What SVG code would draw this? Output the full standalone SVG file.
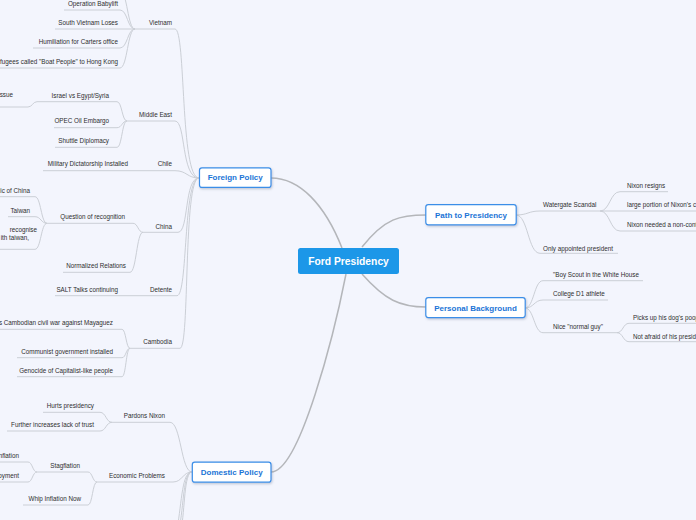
<svg xmlns="http://www.w3.org/2000/svg" width="696" height="520" viewBox="0 0 696 520">
<defs>
<filter id="sh" x="-20%" y="-30%" width="140%" height="170%">
<feDropShadow dx="0.8" dy="1.2" stdDeviation="0.8" flood-color="#7a8aa0" flood-opacity="0.45"/>
</filter>
</defs>
<style>
.t{font-family:"Liberation Sans",Arial,sans-serif;font-size:6.3px;fill:#2e2e2e}
.e{text-anchor:end}
.m{font-family:"Liberation Sans",Arial,sans-serif;font-size:8px;font-weight:bold;fill:#1b74d6;text-anchor:middle}
.box{fill:#fff;stroke:#3a8ee8;stroke-width:1.2}
.c{fill:none;stroke:#cbcfd6;stroke-width:1}
.k{fill:none;stroke:#b4b6ba;stroke-width:1.5}
</style>
<rect width="696" height="520" fill="#f3f5fd"/>
<g id="connectors">
<path class="k" d="M342,248 C325,205 300,178 271,178"/>
<path class="k" d="M362,247 C385,218 400,215 426,215"/>
<path class="k" d="M362,274 C385,300 400,307 426,307"/>
<path class="k" d="M346,274 C335,330 300,472 271,472"/>
<path class="c" d="M135,29 H175 C186,29 180,178 199,178"/>
<path class="c" d="M127,121 H175 C186,121 181,178 199,178"/>
<path class="c" d="M43,170.7 H175 C187,170.7 187,178 199,178"/>
<path class="c" d="M143,232.3 H178 C189,232.3 184,178 199,178"/>
<path class="c" d="M55,295.7 H177 C188,295.7 183,178 199,178"/>
<path class="c" d="M130,348.3 H180 C190,348.3 183,178 199,178"/>
<path class="c" d="M60,-9 H120 C127.5,-9 127.5,29 135,29"/>
<path class="c" d="M64,10 H120 C127.5,10 127.5,29 135,29"/>
<path class="c" d="M55,29 H135"/>
<path class="c" d="M33,48 H120 C127.5,48 127.5,29 135,29"/>
<path class="c" d="M-10,68 H120 C127.5,68 127.5,29 135,29"/>
<path class="c" d="M37,101.7 H117 C122,101.7 122,121 127,121"/>
<path class="c" d="M54,127.7 H117 C122,127.7 122,121 127,121"/>
<path class="c" d="M55,147.3 H117 C122,147.3 122,121 127,121"/>
<path class="c" d="M-5,107 H28 C32.5,107 32.5,101.7 37,101.7"/>
<path class="c" d="M47,223.3 H133 C138,223.3 138,232.3 143,232.3"/>
<path class="c" d="M63,272.3 H130 C136.5,272.3 136.5,232.3 143,232.3"/>
<path class="c" d="M-5,196.7 H35 C41,196.7 41,223.3 47,223.3"/>
<path class="c" d="M8,216.7 H35 C41,216.7 41,223.3 47,223.3"/>
<path class="c" d="M-5,249.3 H35 C41,249.3 41,223.3 47,223.3"/>
<path class="c" d="M-5,329.3 H122 C126,329.3 126,348.3 130,348.3"/>
<path class="c" d="M17,357.7 H122 C126,357.7 126,348.3 130,348.3"/>
<path class="c" d="M17,376.7 H122 C126,376.7 126,348.3 130,348.3"/>
<path class="c" d="M112,422.3 H170 C181,422.3 181,472 192,472"/>
<path class="c" d="M97,482 H173 C182.5,482 182.5,472 192,472"/>
<path class="c" d="M192,472 C182,472 182,500 177,530"/>
<path class="c" d="M192,472 C183,472 184,505 179,530"/>
<path class="c" d="M192,472 C184,472 185,510 181,530"/>
<path class="c" d="M43,412.3 H100 C106,412.3 106,422.3 112,422.3"/>
<path class="c" d="M7,431 H100 C106,431 106,422.3 112,422.3"/>
<path class="c" d="M37,472 H88 C92.5,472 92.5,482 97,482"/>
<path class="c" d="M23,505 H88 C92.5,505 92.5,482 97,482"/>
<path class="c" d="M-5,462 H28 C32.5,462 32.5,472 37,472"/>
<path class="c" d="M-5,482 H28 C32.5,482 32.5,472 37,472"/>
<path class="c" d="M516,215 C528,215 528,211 540,211 H600"/>
<path class="c" d="M516,215 C528,215 528,253.3 540,253.3 H618"/>
<path class="c" d="M600,211 C610,211 610,191.7 620,191.7 H668"/>
<path class="c" d="M600,211 H700"/>
<path class="c" d="M600,211 C610,211 610,231 620,231 H700"/>
<path class="c" d="M525,308 C534,308 534,280.7 543,280.7 H643"/>
<path class="c" d="M525,308 C534,308 534,300 543,300 H608"/>
<path class="c" d="M525,308 C534,308 534,332.7 543,332.7 H617"/>
<path class="c" d="M617,332.7 C623,332.7 623,323.3 629,323.3 H700"/>
<path class="c" d="M617,332.7 C623,332.7 623,341.7 629,341.7 H700"/>
</g>
<g id="ford-presidency">
<rect x="298" y="248" width="101" height="26" rx="2.5" fill="#1c97e8"/>
<text x="348.5" y="264.9" text-anchor="middle" font-family="Liberation Sans, Arial, sans-serif" font-size="10.3" font-weight="bold" fill="#fff">Ford Presidency</text>
</g>
<g id="foreign-policy">
<rect class="box" x="199.5" y="167.8" width="71.5" height="19.6" rx="2.5" filter="url(#sh)"/>
<text class="m" x="235.2" y="180.1">Foreign Policy</text>
</g>
<g id="path-to-presidency">
<rect class="box" x="425.8" y="204.6" width="90.4" height="20.2" rx="2.5" filter="url(#sh)"/>
<text class="m" x="471" y="218.1">Path to Presidency</text>
</g>
<g id="personal-background">
<rect class="box" x="425.8" y="297.6" width="99.4" height="20" rx="2.5" filter="url(#sh)"/>
<text class="m" x="475.5" y="310.8">Personal Background</text>
</g>
<g id="domestic-policy">
<rect class="box" x="192.3" y="462.2" width="78.7" height="20" rx="2.5" filter="url(#sh)"/>
<text class="m" x="231.7" y="475.1">Domestic Policy</text>
</g>
<g id="vietnam">
<text class="t e" x="172" y="25.2">Vietnam</text>
<text class="t e" x="118" y="6.2">Operation Babylift</text>
<text class="t e" x="118" y="25.2">South Vietnam Loses</text>
<text class="t e" x="118" y="44.2">Humiliation for Carters office</text>
<text class="t e" x="118" y="64.2">Refugees called "Boat People" to Hong Kong</text>
</g>
<g id="middle-east">
<text class="t e" x="172" y="117.2">Middle East</text>
<text class="t e" x="109" y="97.9">Israel vs Egypt/Syria</text>
<text class="t e" x="13" y="97.2">issue</text>
<text class="t e" x="109" y="123.2">OPEC Oil Embargo</text>
<text class="t e" x="109" y="143.2">Shuttle Diplomacy</text>
</g>
<g id="chile">
<text class="t e" x="172" y="166.2">Chile</text>
<text class="t e" x="128" y="166.2">Military Dictatorship Installed</text>
</g>
<g id="china">
<text class="t e" x="172" y="228.9">China</text>
<text class="t e" x="125" y="218.9">Question of recognition</text>
<text class="t e" x="30" y="192.9">People's Republic of China</text>
<text class="t e" x="30" y="213.2">Taiwan</text>
<text class="t e" x="37" y="232.2">recognise</text>
<text class="t e" x="29" y="239.9">ith taiwan,</text>
<text class="t e" x="126" y="268.2">Normalized Relations</text>
</g>
<g id="detente">
<text class="t e" x="172" y="292.2">Detente</text>
<text class="t e" x="118" y="292.2">SALT Talks continuing</text>
</g>
<g id="cambodia">
<text class="t e" x="172" y="343.9">Cambodia</text>
<text class="t e" x="113" y="324.9">es Cambodian civil war against Mayaguez</text>
<text class="t e" x="113" y="353.9">Communist government installed</text>
<text class="t e" x="113" y="372.9">Genocide of Capitalist-like people</text>
</g>
<g id="pardons-nixon">
<text class="t e" x="165" y="418.2">Pardons Nixon</text>
<text class="t e" x="94" y="408.2">Hurts presidency</text>
<text class="t e" x="94" y="426.9">Further increases lack of trust</text>
</g>
<g id="economic-problems">
<text class="t e" x="165" y="478.2">Economic Problems</text>
<text class="t e" x="80" y="468.2">Stagflation</text>
<text class="t e" x="19" y="458.2">Inflation</text>
<text class="t e" x="19" y="478.2">Unemployment</text>
<text class="t e" x="81" y="500.9">Whip Inflation Now</text>
</g>
<g id="watergate">
<text class="t" x="543" y="206.9">Watergate Scandal</text>
<text class="t" x="627" y="187.9">Nixon resigns</text>
<text class="t" x="627" y="206.9">large portion of Nixon's c</text>
<text class="t" x="627" y="227.2">Nixon needed a non-cont</text>
<text class="t" x="543" y="250.5">Only appointed president</text>
</g>
<g id="personal">
<text class="t" x="553" y="277.2">"Boy Scout in the White House</text>
<text class="t" x="553" y="296.2">College D1 athlete</text>
<text class="t" x="553" y="328.9">Nice "normal guy"</text>
<text class="t" x="633" y="319.9">Picks up his dog's poop</text>
<text class="t" x="633" y="338.9">Not afraid of his presid</text>
</g>
</svg>
